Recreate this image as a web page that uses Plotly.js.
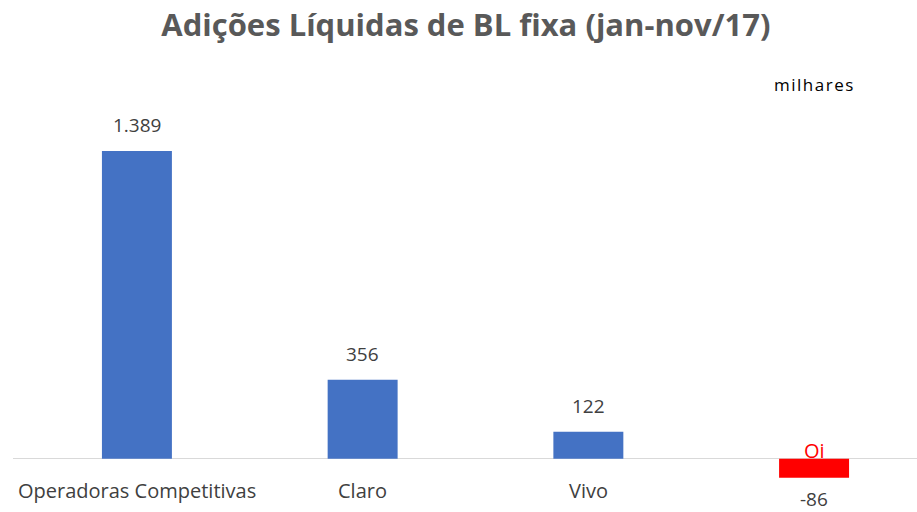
<!DOCTYPE html>
<html>
<head>
<meta charset="utf-8">
<script src="https://cdn.plot.ly/plotly-3.0.1.min.js"></script>
<style>html,body{margin:0;padding:0;background:#fff;}#chart{width:917px;height:512px;}</style>
</head>
<body>
<div id="chart"></div>
<script>
const categories = ["Operadoras Competitivas", "Claro", "Vivo", "Oi"];
const values = [1389, 356, 122, -86];
const valueLabels = ["1.389", "356", "122", "-86"];
const barColors = ["#4472C4", "#4472C4", "#4472C4", "#FF0000"];
const labelColors = ["#404040", "#404040", "#404040", "#FF0000"];

const xIdx = categories.map((c, i) => i);

const trace = {
  type: "bar",
  x: xIdx,
  y: values,
  width: 0.31,
  marker: {color: barColors},
  hoverinfo: "skip"
};

const annotations = [];
values.forEach((v, i) => {
  annotations.push({
    x: i, y: v, xref: "x", yref: "y",
    text: valueLabels[i], showarrow: false,
    yshift: v >= 0 ? 26 : -21,
    font: {family: "Open Sans, sans-serif", size: 19, color: "#404040"}
  });
  annotations.push({
    x: i, y: 0, xref: "x", yref: "y",
    text: categories[i], showarrow: false,
    yshift: v >= 0 ? -32 : 8,
    font: {family: "Open Sans, sans-serif", size: 20, color: labelColors[i]}
  });
});
annotations.push({
  x: 3.0, y: 1690, xref: "x", yref: "y",
  text: "<span style=\"letter-spacing:1.5px\">milhares</span>", showarrow: false,
  font: {family: "Open Sans, sans-serif", size: 17, color: "#000"}
});

const layout = {
  width: 917, height: 512,
  margin: {l: 13, r: 0, t: 60, b: 8.5},
  paper_bgcolor: "#fff", plot_bgcolor: "#fff",
  showlegend: false,
  title: {
    text: "<b>Adições Líquidas de BL fixa (jan-nov/17)</b>",
    x: 0.508, xanchor: "center", y: 0.95, yanchor: "middle",
    font: {family: "Open Sans, sans-serif", size: 31, color: "#595959"}
  },
  xaxis: {
    range: [-0.549, 3.456], showgrid: false, showticklabels: false,
    zeroline: false, showline: false, fixedrange: true
  },
  yaxis: {
    range: [-200, 1800], showgrid: false, showticklabels: false,
    zeroline: true, zerolinecolor: "#D9D9D9", zerolinewidth: 1.5,
    showline: false, fixedrange: true
  },
  annotations: annotations
};

Plotly.newPlot("chart", [trace], layout, {displayModeBar: false, staticPlot: true});
</script>
</body>
</html>
